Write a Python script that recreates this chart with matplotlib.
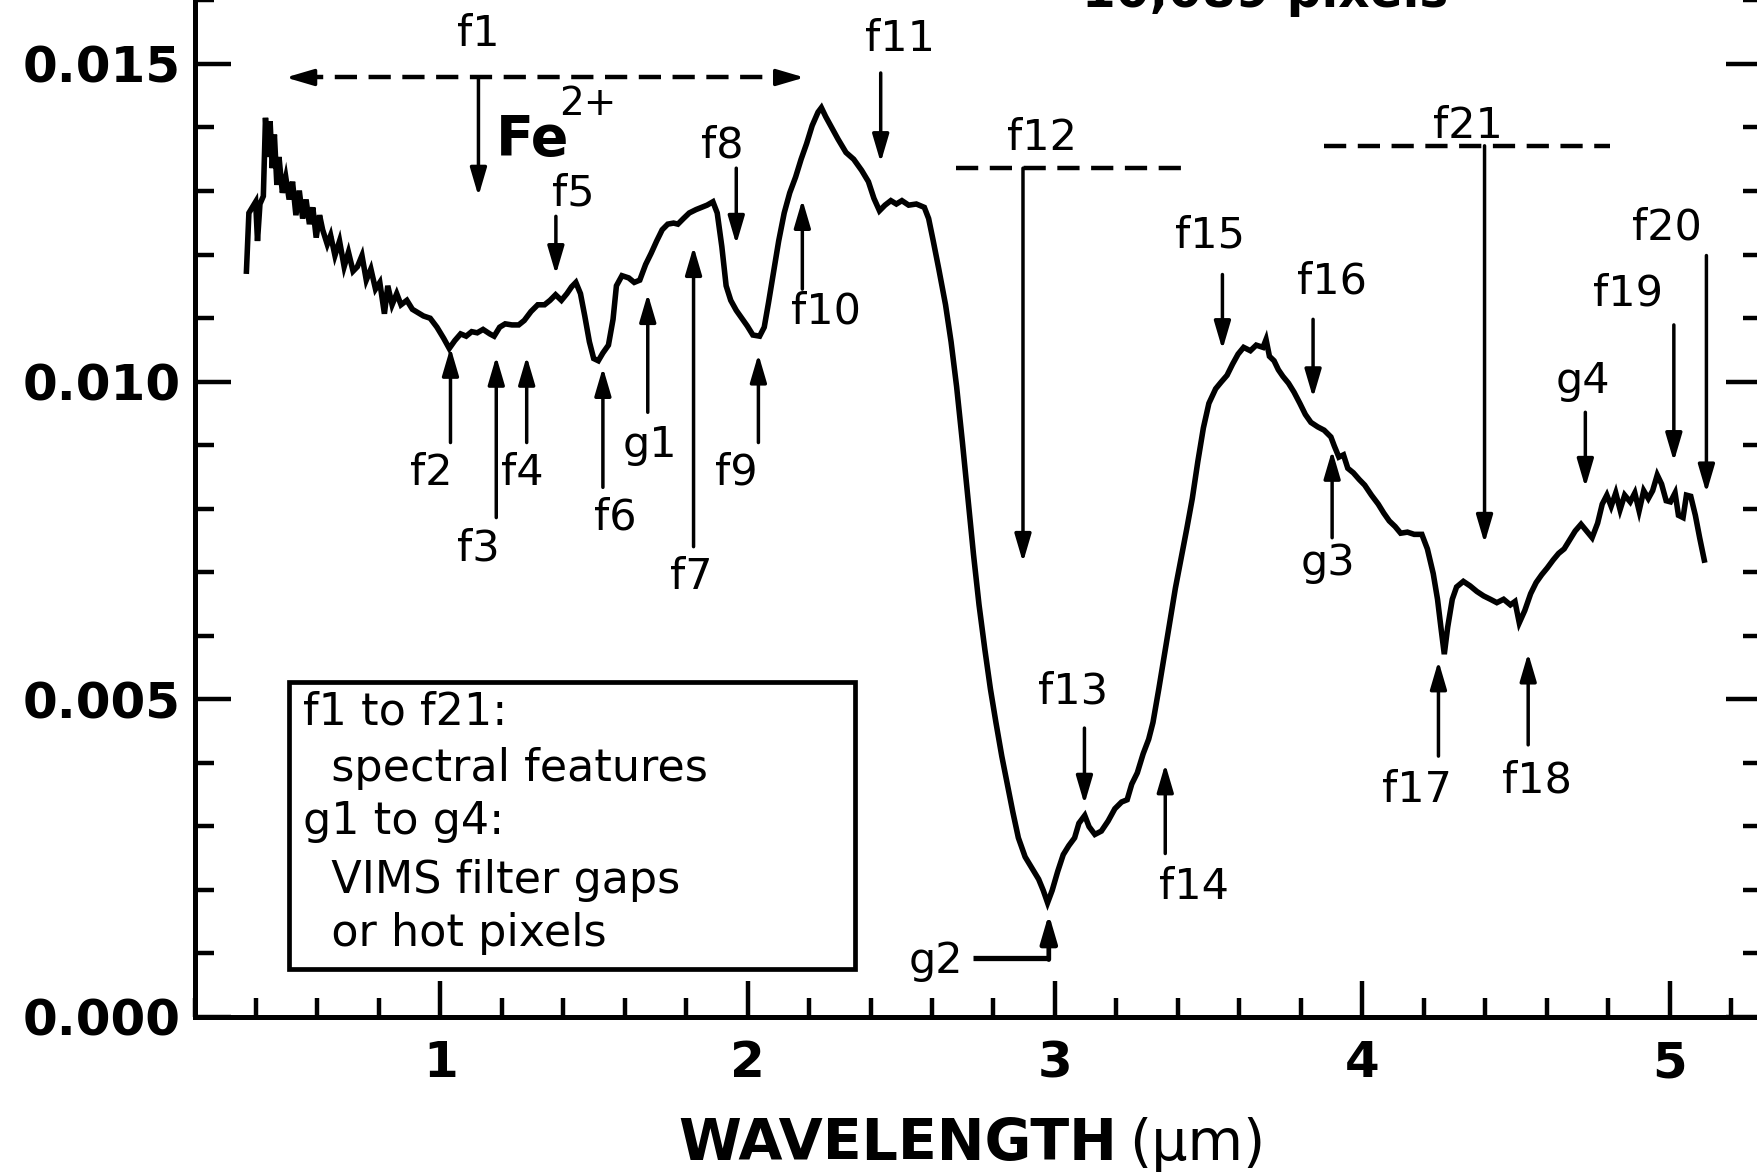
import numpy as np
import matplotlib
matplotlib.use("Agg")
import matplotlib.pyplot as plt
from matplotlib.ticker import MultipleLocator

# ---------------- data ----------------
wavelength = [
    0.369, 0.377, 0.388, 0.399, 0.405, 0.413, 0.424, 0.431, 0.438, 0.446,
    0.453, 0.460, 0.468, 0.475, 0.486, 0.497, 0.508, 0.519, 0.530, 0.541,
    0.552, 0.563, 0.574, 0.585, 0.596, 0.607, 0.617, 0.632, 0.643, 0.657,
    0.672, 0.687, 0.701, 0.716, 0.730, 0.745, 0.759, 0.774, 0.789, 0.803,
    0.818, 0.829, 0.843, 0.858, 0.872, 0.891, 0.909, 0.927, 0.945, 0.967,
    0.989, 1.011, 1.029, 1.047, 1.066, 1.084, 1.102, 1.120, 1.139, 1.161,
    1.175, 1.193, 1.211, 1.233, 1.255, 1.273, 1.295, 1.317, 1.339, 1.357,
    1.375, 1.394, 1.412, 1.427, 1.441, 1.456, 1.470, 1.485, 1.499, 1.514,
    1.529, 1.547, 1.562, 1.573, 1.591, 1.613, 1.631, 1.649, 1.668, 1.686,
    1.704, 1.722, 1.740, 1.759, 1.773, 1.791, 1.810, 1.832, 1.850, 1.868,
    1.887, 1.901, 1.916, 1.930, 1.945, 1.963, 1.981, 1.999, 2.017, 2.039,
    2.054, 2.068, 2.083, 2.101, 2.119, 2.137, 2.156, 2.174, 2.192, 2.210,
    2.229, 2.240, 2.254, 2.272, 2.294, 2.320, 2.345, 2.371, 2.393, 2.411,
    2.429, 2.447, 2.466, 2.484, 2.502, 2.524, 2.549, 2.575, 2.589, 2.604,
    2.622, 2.644, 2.662, 2.680, 2.699, 2.717, 2.735, 2.753, 2.772, 2.790,
    2.808, 2.827, 2.845, 2.863, 2.881, 2.903, 2.925, 2.947, 2.962, 2.976,
    2.991, 3.009, 3.027, 3.045, 3.064, 3.078, 3.097, 3.111, 3.130, 3.151,
    3.173, 3.195, 3.217, 3.235, 3.250, 3.268, 3.287, 3.305, 3.319, 3.338,
    3.356, 3.374, 3.392, 3.411, 3.429, 3.447, 3.465, 3.483, 3.501, 3.523,
    3.541, 3.560, 3.578, 3.596, 3.614, 3.636, 3.655, 3.677, 3.687, 3.698,
    3.713, 3.727, 3.742, 3.760, 3.778, 3.797, 3.815, 3.833, 3.855, 3.876,
    3.898, 3.909, 3.924, 3.939, 3.953, 3.971, 3.990, 4.008, 4.030, 4.052,
    4.070, 4.088, 4.107, 4.125, 4.147, 4.169, 4.194, 4.212, 4.231, 4.245,
    4.256, 4.267, 4.278, 4.293, 4.307, 4.329, 4.351, 4.373, 4.395, 4.417,
    4.438, 4.460, 4.482, 4.497, 4.511, 4.529, 4.548, 4.566, 4.584, 4.602,
    4.621, 4.639, 4.657, 4.675, 4.693, 4.712, 4.730, 4.748, 4.766, 4.781,
    4.796, 4.810, 4.825, 4.839, 4.854, 4.872, 4.887, 4.901, 4.916, 4.931,
    4.945, 4.960, 4.974, 4.989, 5.003, 5.018, 5.029, 5.044, 5.055, 5.069,
    5.084, 5.098, 5.113,
]
# reflectance in units of 1e-3
reflectance_milli = [
    11.738, 12.654, 12.742, 12.830, 12.213, 12.795, 12.918, 14.152, 13.535, 14.099,
    13.359, 13.888, 13.095, 13.535, 12.971, 13.218, 12.866, 13.147, 12.619, 13.006,
    12.566, 12.866, 12.478, 12.742, 12.266, 12.619, 12.390, 12.161, 12.302, 11.984,
    12.213, 11.808, 12.037, 11.738, 11.808, 11.984, 11.597, 11.773, 11.456, 11.561,
    11.068, 11.508, 11.209, 11.385, 11.209, 11.279, 11.138, 11.086, 11.033, 10.997,
    10.856, 10.680, 10.522, 10.645, 10.751, 10.715, 10.786, 10.768, 10.821, 10.751,
    10.715, 10.856, 10.909, 10.892, 10.892, 10.962, 11.103, 11.209, 11.209, 11.279,
    11.367, 11.279, 11.385, 11.491, 11.561, 11.385, 11.033, 10.627, 10.363, 10.328,
    10.451, 10.574, 10.980, 11.508, 11.667, 11.632, 11.561, 11.597, 11.843, 12.020,
    12.213, 12.390, 12.478, 12.495, 12.478, 12.566, 12.654, 12.707, 12.742, 12.777,
    12.830, 12.654, 12.125, 11.508, 11.279, 11.121, 10.997, 10.874, 10.733, 10.715,
    10.856, 11.244, 11.685, 12.213, 12.654, 12.971, 13.218, 13.500, 13.747, 14.029,
    14.240, 14.311, 14.170, 14.011, 13.817, 13.606, 13.500, 13.324, 13.147, 12.883,
    12.689, 12.777, 12.848, 12.795, 12.848, 12.777, 12.795, 12.742, 12.566, 12.213,
    11.773, 11.209, 10.627, 9.922, 9.041, 8.160, 7.279, 6.486, 5.781, 5.164,
    4.635, 4.106, 3.666, 3.225, 2.820, 2.520, 2.344, 2.168, 1.992, 1.798,
    1.992, 2.291, 2.555, 2.696, 2.820, 3.049, 3.172, 2.996, 2.873, 2.926,
    3.084, 3.278, 3.384, 3.419, 3.666, 3.842, 4.142, 4.371, 4.635, 5.164,
    5.693, 6.221, 6.750, 7.226, 7.684, 8.160, 8.742, 9.270, 9.658, 9.887,
    9.993, 10.099, 10.275, 10.433, 10.539, 10.486, 10.574, 10.539, 10.663, 10.398,
    10.328, 10.187, 10.081, 9.975, 9.834, 9.658, 9.482, 9.358, 9.288, 9.235,
    9.129, 8.988, 8.812, 8.847, 8.636, 8.565, 8.460, 8.371, 8.213, 8.072,
    7.931, 7.807, 7.719, 7.614, 7.631, 7.596, 7.596, 7.367, 6.979, 6.574,
    6.133, 5.710, 6.133, 6.574, 6.768, 6.856, 6.785, 6.697, 6.627, 6.574,
    6.521, 6.574, 6.486, 6.539, 6.204, 6.398, 6.662, 6.838, 6.961, 7.067,
    7.191, 7.296, 7.367, 7.508, 7.649, 7.755, 7.649, 7.543, 7.772, 8.072,
    8.213, 8.037, 8.248, 7.984, 8.213, 8.107, 8.248, 7.966, 8.283, 8.160,
    8.283, 8.530, 8.389, 8.125, 8.107, 8.248, 7.896, 7.860, 8.213, 8.195,
    7.896, 7.543, 7.191,
]

# feature markers: label, arrow x, arrow tail y, arrow tip y, label x, label y (y in 1e-3)
feat_labels = ["f1", "f2", "f3", "f4", "f5", "f6", "g1", "f7", "f8", "f9", "f10",
               "f11", "f12", "f13", "f14", "f15", "f16", "g3", "f17", "f18",
               "f19", "f20", "g4", "f21"]
feat_x = [1.124, 1.033, 1.182, 1.281, 1.376, 1.529, 1.675, 1.824, 1.963, 2.035, 2.178,
          2.433, 2.896, 3.096, 3.359, 3.545, 3.840, 3.902, 4.248, 4.540,
          5.014, 5.120, 4.726, 4.398]
feat_tail = [14.786, 9.041, 7.860, 9.041, 12.601, 8.336, 9.517, 7.402, 13.359, 9.041, 11.456,
             14.857, 13.359, 4.547, 2.573, 11.685, 10.980, 7.543, 4.106, 4.283,
             10.892, 11.984, 9.517, 13.711]
feat_tip = [12.918, 10.539, 10.398, 10.398, 11.685, 10.222, 11.385, 12.125, 12.161, 10.433, 12.866,
            13.447, 7.155, 3.349, 3.983, 10.504, 9.746, 8.918, 5.604, 5.728,
            8.742, 8.248, 8.336, 7.455]
label_x = [1.124, 0.971, 1.124, 1.266, 1.434, 1.569, 1.682, 1.817, 1.919, 1.963, 2.254,
           2.495, 2.958, 3.060, 3.454, 3.505, 3.902, 3.888, 4.179, 4.569,
           4.864, 4.992, 4.718, 4.343]
label_y = [15.474, 8.565, 7.367, 8.565, 12.954, 7.860, 9.006, 6.926, 13.711, 8.565, 11.103,
           15.386, 13.835, 5.129, 2.044, 12.302, 11.579, 7.138, 3.578, 3.719,
           11.385, 12.425, 10.010, 14.029]

# dashed range bars (x start, x end, y in 1e-3)
f1_range = (0.497, 2.185, 14.786)
f12_range = (2.677, 3.439, 13.359)
f21_range = (3.876, 4.806, 13.711)

# g2 elbow pointer
g2_label = (2.611, 0.881)
g2_elbow_x = (2.732, 2.980)
g2_elbow_y = 0.934
g2_tip_y = 1.621

legend_lines = ["f1 to f21:", "  spectral features", "g1 to g4:",
                "  VIMS filter gaps", "  or hot pixels"]

x_major = [1, 2, 3, 4, 5]
y_major = [0.000, 0.005, 0.010, 0.015]
y_major_labels = ["0.000", "0.005", "0.010", "0.015"]

# ---------------- figure ----------------
W, H = 1757, 1172
fig = plt.figure(figsize=(W / 100, H / 100), dpi=100)
fig.patch.set_facecolor("white")

ax = fig.add_axes([194.5 / W, 155 / H, 5.1 * 307.3 / W, 0.0175 / 0.005 * 317.7 / H])
ax.set_xlim(0.2, 5.3)
ax.set_ylim(0.0, 0.0175)

M = 1e-3
wl = np.array(wavelength)
rf = np.array(reflectance_milli) * M
ax.plot(wl, rf, color="black", lw=4.0, solid_joinstyle="miter", zorder=5)

for s in ax.spines.values():
    s.set_linewidth(3.6)

ax.set_xticks(x_major)
ax.set_xticklabels([str(v) for v in x_major], fontsize=36, fontweight="bold")
ax.xaxis.set_minor_locator(MultipleLocator(0.2))
ax.set_yticks(y_major)
ax.set_yticklabels(y_major_labels, fontsize=36, fontweight="bold")
ax.yaxis.set_minor_locator(MultipleLocator(0.001))
ax.tick_params(which="both", direction="in", top=True, right=True, width=3.2, color="black")
ax.tick_params(which="major", length=26)
ax.tick_params(which="minor", length=14)
ax.tick_params(axis="y", pad=10)
ax.tick_params(axis="x", pad=16)

arrow_style = dict(arrowstyle="-|>,head_length=0.85,head_width=0.25", lw=2.5,
                   color="black", fc="black", shrinkA=0, shrinkB=0, mutation_scale=20)

label_fs = 31
for lab, xa, yt, yp, lx, ly in zip(feat_labels, feat_x, feat_tail, feat_tip, label_x, label_y):
    ax.annotate("", xy=(xa, yp * M), xytext=(xa, yt * M), arrowprops=arrow_style, zorder=6)
    ax.text(lx, ly * M, lab, fontsize=label_fs, ha="center", va="center", zorder=7)

dash = (0, (5.0, 2.6))
# f1 double-headed dashed range
x0, x1, yy = f1_range
ax.plot([x0 + 0.05, x1 - 0.05], [yy * M, yy * M], color="black", lw=3.2, linestyle=dash)
ax.annotate("", xy=(x0, yy * M), xytext=(x0 + 0.08, yy * M), arrowprops=arrow_style)
ax.annotate("", xy=(x1, yy * M), xytext=(x1 - 0.08, yy * M), arrowprops=arrow_style)
for (x0, x1, yy) in (f12_range, f21_range):
    ax.plot([x0, x1], [yy * M, yy * M], color="black", lw=3.2, linestyle=dash)

# Fe2+
ax.text(1.182, 13.570 * M, "Fe", fontsize=40, fontweight="bold", ha="left", va="baseline")
ax.text(1.385, 14.200 * M, "2+", fontsize=28, ha="left", va="baseline")

# g2 elbow pointer
ax.plot([g2_elbow_x[0], g2_elbow_x[1]], [g2_elbow_y * M, g2_elbow_y * M], color="black", lw=3.8,
        solid_capstyle="butt")
ax.annotate("", xy=(g2_elbow_x[1], g2_tip_y * M), xytext=(g2_elbow_x[1], g2_elbow_y * M - 0.00003),
            arrowprops=dict(arrow_style, lw=3.4))
ax.text(g2_label[0], g2_label[1] * M, "g2", fontsize=label_fs, ha="center", va="center")

# legend box
ax.add_patch(plt.Rectangle((0.508, 0.758 * M), 2.349 - 0.508, (5.270 - 0.758) * M,
                           fill=False, lw=3.4, edgecolor="black", zorder=4))
legend_base = [4.600, 3.719, 2.873, 1.956, 1.110]
for line, yb in zip(legend_lines, legend_base):
    ax.text(0.552, yb * M, line, fontsize=32, ha="left", va="baseline")

# x label (bold word + regular unit)
t1 = fig.text(678 / W, 12 / H, "WAVELENGTH", fontsize=41, fontweight="bold",
              ha="left", va="baseline")
fig.canvas.draw()
bb = t1.get_window_extent()
fig.text((bb.x1 + 12) / W, 12 / H, "(µm)", fontsize=41, ha="left", va="baseline")

# partially visible title at top (cropped in the reference as well)
fig.text(1265 / W, 1 - 7 / H, "10,089 pixels", fontsize=35, fontweight="bold",
         ha="center", va="baseline")

fig.savefig("out.png", dpi=100, facecolor="white")
